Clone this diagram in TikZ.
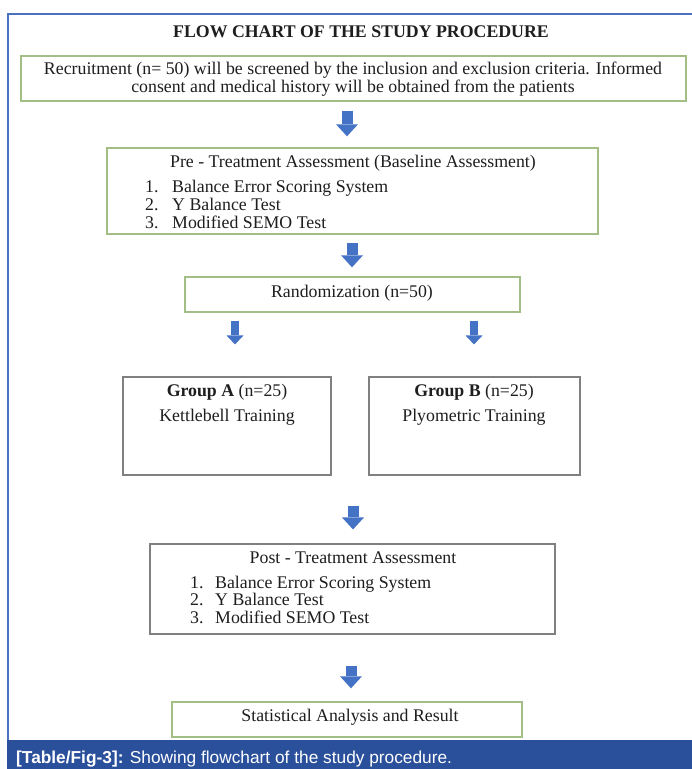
\documentclass[tikz,border=0pt]{standalone}
\usepackage{fontspec}
\setmainfont{Liberation Serif}
\newfontfamily\capfont{Liberation Sans}
\usetikzlibrary{arrows.meta}
\definecolor{arrowblue}{HTML}{4472C4}
\definecolor{boxgreen}{HTML}{A3BE85}
\definecolor{boxgray}{HTML}{808080}
\definecolor{bandblue}{HTML}{2A4F9B}
\definecolor{frameblue}{HTML}{4A72C0}
\definecolor{txt}{HTML}{1E1E1E}
\begin{document}
\begin{tikzpicture}[x=1pt,y=-1pt,
  gbox/.style={draw=boxgreen, line width=1.4pt, inner sep=0pt},
  kbox/.style={draw=boxgray, line width=1.1pt, inner sep=0pt},
  body/.style={text=txt, font=\fontsize{17.8}{18.4}\selectfont, inner sep=0pt},
  bigarrow/.style={draw=arrowblue, line width=11pt,
    -{Triangle[width=22pt,length=12pt,line width=0pt]}},
  smallarrow/.style={draw=arrowblue, line width=8pt,
    -{Triangle[width=17pt,length=9pt,line width=0pt]}}
]
\useasboundingbox (0,0) rectangle (692,769);
\fill[white] (0,0) rectangle (692,769);
% frame
\draw[frameblue, line width=1.5pt] (8,741) -- (8,14) -- (692,14);
\fill[bandblue] (7,740) rectangle (692,769);
\node[anchor=base west, inner sep=0pt, text=white, font=\capfont\fontsize{17.3}{18}\selectfont] (cap) at (16,763)
  {\textbf{[Table/Fig-3]:} Showing flowchart of the study procedure.};

% title
\node[body, anchor=base, font=\bfseries\fontsize{17.8}{18.4}\selectfont] (title) at (361,37) {FLOW CHART OF THE STUDY PROCEDURE};

% boxes
\node[gbox, minimum width=665pt, minimum height=45pt] (b1) at (353.5,78.5) {};
\node[body, align=center] (t1) at (353,79) {Recruitment (n= 50) will be screened by the inclusion and exclusion criteria. Informed\\consent and medical history will be obtained from the patients};

\node[gbox, minimum width=491pt, minimum height=86pt] (b2) at (352.5,191) {};
\node[body, anchor=base] (t2) at (353,167) {Pre - Treatment Assessment (Baseline Assessment)};
\node[body, anchor=base west] (n21) at (145,192) {1.};
\node[body, anchor=base west] (i21) at (172,192) {Balance Error Scoring System};
\node[body, anchor=base west] (n22) at (145,210) {2.};
\node[body, anchor=base west] (i22) at (172,210) {Y Balance Test};
\node[body, anchor=base west] (n23) at (145,228) {3.};
\node[body, anchor=base west] (i23) at (172,228) {Modified SEMO Test};

\node[gbox, minimum width=335pt, minimum height=35pt] (b3) at (352.5,294.5) {};
\node[body, anchor=base] (t3) at (352,297) {Randomization (n=50)};

\node[kbox, minimum width=208pt, minimum height=98pt] (bA) at (227,426) {};
\node[body, anchor=base] (tA) at (227,396) {\textbf{Group A} (n=25)};
\node[body, anchor=base] (sA) at (227,421) {Kettlebell Training};

\node[kbox, minimum width=211pt, minimum height=98pt] (bB) at (474.5,426) {};
\node[body, anchor=base] (tB) at (474,396) {\textbf{Group B} (n=25)};
\node[body, anchor=base] (sB) at (474,421) {Plyometric Training};

\node[kbox, minimum width=405pt, minimum height=90pt] (bP) at (352.5,589) {};
\node[body, anchor=base] (tP) at (353,563) {Post - Treatment Assessment};
\node[body, anchor=base west] (n31) at (190,588) {1.};
\node[body, anchor=base west] (i31) at (215,588) {Balance Error Scoring System};
\node[body, anchor=base west] (n32) at (190,605) {2.};
\node[body, anchor=base west] (i32) at (215,605) {Y Balance Test};
\node[body, anchor=base west] (n33) at (190,623) {3.};
\node[body, anchor=base west] (i33) at (215,623) {Modified SEMO Test};

\node[gbox, minimum width=350pt, minimum height=35pt] (bS) at (347,719.5) {};
\node[body, anchor=base] (tS) at (350,721) {Statistical Analysis and Result};

% arrows
\coordinate (x1) at (347,0);
\coordinate (x2) at (352,0);
\coordinate (xa) at (235,0);
\coordinate (xb) at (474,0);
\coordinate (x3) at (353,0);
\coordinate (x4) at (351,0);
\draw[bigarrow, shorten <=9pt, shorten >=11pt] (b1.south -| x1) -- (b2.north -| x1);
\draw[bigarrow, shorten <=8pt, shorten >=9pt] (b2.south -| x2) -- (b3.north -| x2);
\draw[smallarrow, shorten <=8pt, shorten >=32pt] (b3.south -| xa) -- (bA.north -| xa);
\draw[smallarrow, shorten <=8pt, shorten >=32pt] (b3.south -| xb) -- (bB.north -| xb);
\draw[bigarrow, shorten <=30pt, shorten >=14pt] (bA.south -| x3) -- (bP.north -| x3);
\draw[bigarrow, shorten <=31pt, shorten >=13pt] (bP.south -| x4) -- (bS.north -| x4);
\end{tikzpicture}
\end{document}
